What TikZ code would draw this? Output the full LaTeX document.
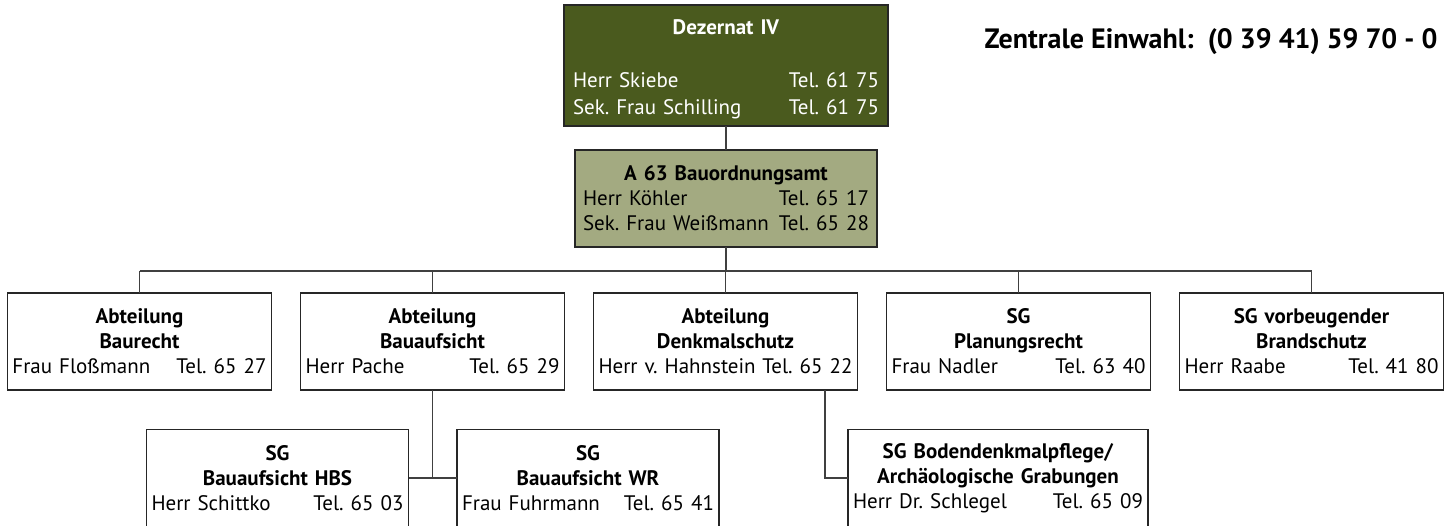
\documentclass[tikz,border=0pt]{standalone}
\usepackage{fontspec}
\setmainfont{PT Sans}
\usetikzlibrary{positioning}

\definecolor{dezgreen}{HTML}{4A5A1E}
\definecolor{amtgreen}{HTML}{A3AA81}
\definecolor{linegray}{HTML}{404040}

% name left, phone number right
\newcommand{\telline}[2]{\makebox[\linewidth][l]{#1\hfill#2}}
\newcommand{\boxfont}[1]{\fontsize{21}{#1}\selectfont\fontdimen2\font=4.4pt}
\frenchspacing

\begin{document}
\begin{tikzpicture}[x=1pt, y=-1pt,
    orgbox/.style={rectangle, draw=black!85, line width=1.3pt, fill=white,
      font=\boxfont{25}, align=center, inner xsep=5pt,
      inner ysep=0pt, outer sep=0pt, text width=254pt, minimum height=97pt},
    dezbox/.style={orgbox, fill=dezgreen, text=white, text width=306pt,
      inner xsep=9pt, minimum height=121pt, font=\boxfont{27}, text height=23pt},
    amtbox/.style={orgbox, fill=amtgreen, text width=286pt, inner xsep=8pt},
    link/.style={draw=linegray, line width=1.6pt}
  ]
  \useasboundingbox (0,0) rectangle (1456,525);

  \node[dezbox] (dez) at (726,65.5) {\textbf{Dezernat IV}\\[26pt]
    \telline{Herr Skiebe}{Tel. 61 75}\\
    \telline{Sek. Frau Schilling}{Tel. 61 75}};
  \node[amtbox] (amt) at (726,198.5) {\textbf{A 63 Bauordnungsamt}\\
    \telline{Herr Köhler}{Tel. 65 17}\\
    \telline{Sek. Frau Weißmann}{Tel. 65 28}};

  \node[anchor=east, font=\fontsize{28}{30}\selectfont\bfseries] (einwahl)
    at (1441,42) {Zentrale Einwahl:\ \ (0 39 41) 59 70 - 0};

  % Abteilungen
  \node[orgbox] (baurecht) at (139.5,341.5) {\textbf{Abteilung}\\ \textbf{Baurecht}\\
    \telline{Frau Floßmann}{Tel. 65 27}};
  \node[orgbox, right=29pt of baurecht] (bauaufsicht) {\textbf{Abteilung}\\ \textbf{Bauaufsicht}\\
    \telline{Herr Pache}{Tel. 65 29}};
  \node[orgbox, right=29pt of bauaufsicht] (denkmal) {\textbf{Abteilung}\\ \textbf{Denkmalschutz}\\
    \telline{Herr v. Hahnstein}{Tel. 65 22}};
  \node[orgbox, right=29pt of denkmal] (planung) {\textbf{SG}\\ \textbf{Planungsrecht}\\
    \telline{Frau Nadler}{Tel. 63 40}};
  \node[orgbox, right=29pt of planung] (brandschutz) {\textbf{SG vorbeugender}\\ \textbf{Brandschutz}\\
    \telline{Herr Raabe}{Tel. 41 80}};

  % Sachgebiete
  \node[orgbox, text width=252pt] (hbs) at (277.5,478) {\textbf{SG}\\ \textbf{Bauaufsicht HBS}\\
    \telline{Herr Schittko}{Tel. 65 03}};
  \node[orgbox, text width=252pt] (wr) at (588,478) {\textbf{SG}\\ \textbf{Bauaufsicht WR}\\
    \telline{Frau Fuhrmann}{Tel. 65 41}};
  \node[orgbox, text width=290pt] (boden) at (998,478) {\textbf{SG Bodendenkmalpflege/}\\
    \textbf{Archäologische Grabungen}\\
    \telline{Herr Dr. Schlegel}{Tel. 65 09}};

  \coordinate (bus) at (726,271);
  \draw[link] (dez.south) -- (amt.north);
  \draw[link] (amt.south) -- (amt.south |- bus);
  \draw[link] (baurecht.north |- bus) -- (brandschutz.north |- bus);
  \foreach \n in {baurecht,bauaufsicht,denkmal,planung,brandschutz}
    \draw[link] (\n.north) -- (\n.north |- bus);

  \draw[link] (bauaufsicht.south) -- (bauaufsicht.south |- hbs.east);
  \draw[link] (hbs.east) -- (wr.west);
  \draw[link] ([xshift=99.5pt]denkmal.south) |- (boden.west);
\end{tikzpicture}
\end{document}
